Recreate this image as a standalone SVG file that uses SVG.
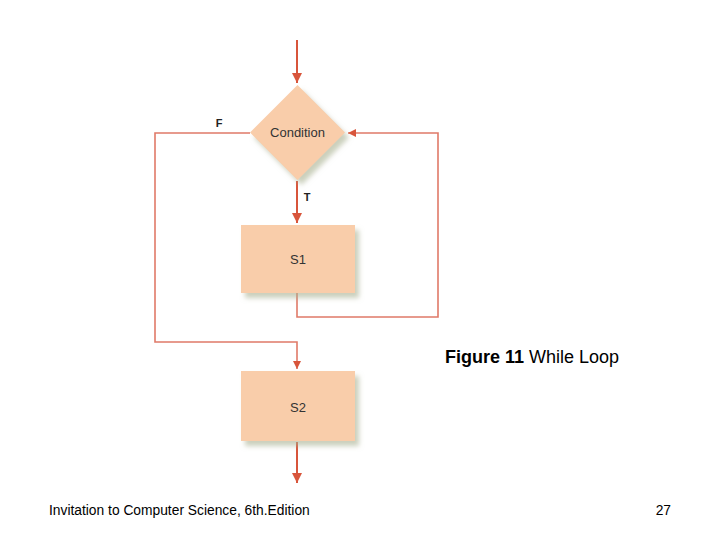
<svg xmlns="http://www.w3.org/2000/svg" width="720" height="540" viewBox="0 0 720 540">
<style>
.ln{fill:none;stroke:#D8553B;stroke-width:2}
.lt{fill:none;stroke:#E07A68;stroke-width:1.6}
.nd{fill:#F9CDAA}
.lbl{font-family:"Liberation Sans",Arial,sans-serif;font-size:13px;fill:#333;text-anchor:middle}
.ft{font-family:"Liberation Sans",Arial,sans-serif;font-size:13.8px;fill:#000}
</style>
<defs>
<marker id="ah" viewBox="0 0 10 10" refX="10" refY="5" markerWidth="5" markerHeight="5" orient="auto" markerUnits="strokeWidth">
<path d="M0,0 L10,5 L0,10 z" fill="#D8553B"/>
</marker>
<filter id="sh" x="-20%" y="-20%" width="150%" height="150%">
<feGaussianBlur in="SourceAlpha" stdDeviation="2.5"/>
<feOffset dx="4" dy="5" result="b"/>
<feFlood flood-color="#A8B090" flood-opacity="0.6"/>
<feComposite in2="b" operator="in"/>
<feMerge><feMergeNode/><feMergeNode in="SourceGraphic"/></feMerge>
</filter>
</defs>
<rect width="720" height="540" fill="#fff"/>
<g id="connectors">
<line class="ln" x1="297" y1="40" x2="297" y2="83" marker-end="url(#ah)"/>
<line class="ln" x1="297" y1="181" x2="297" y2="223" marker-end="url(#ah)"/>
<polyline class="lt" points="250,133 155,133 155,342 297,342 297,369" marker-end="url(#ah)"/>
<polyline class="lt" points="297,293 297,317 438,317 438,133 348,133" marker-end="url(#ah)"/>
<line class="ln" x1="297" y1="442" x2="297" y2="483" marker-end="url(#ah)"/>
</g>
<g id="condition">
<polygon class="nd" filter="url(#sh)" points="297.5,85 345,132.5 297.5,180 250,132.5"/>
<text class="lbl" x="297.5" y="137">Condition</text>
</g>
<g id="s1">
<rect class="nd" filter="url(#sh)" x="241" y="225" width="114" height="68"/>
<text class="lbl" x="298" y="264">S1</text>
</g>
<g id="s2">
<rect class="nd" filter="url(#sh)" x="241" y="371" width="114" height="70"/>
<text class="lbl" x="298" y="412">S2</text>
</g>
<g id="labels">
<text x="219" y="127" style="font-family:'Liberation Sans',Arial,sans-serif;font-size:11px;font-weight:bold;fill:#222;text-anchor:middle">F</text>
<text x="307" y="201" style="font-family:'Liberation Sans',Arial,sans-serif;font-size:11px;font-weight:bold;fill:#222;text-anchor:middle">T</text>
</g>
<text x="445" y="363" style="font-family:'Liberation Sans',Arial,sans-serif;font-size:18px;fill:#000"><tspan font-weight="bold">Figure 11</tspan> While Loop</text>
<text class="ft" x="49" y="515">Invitation to Computer Science, 6th.Edition</text>
<text class="ft" x="671" y="515" text-anchor="end">27</text>
</svg>
